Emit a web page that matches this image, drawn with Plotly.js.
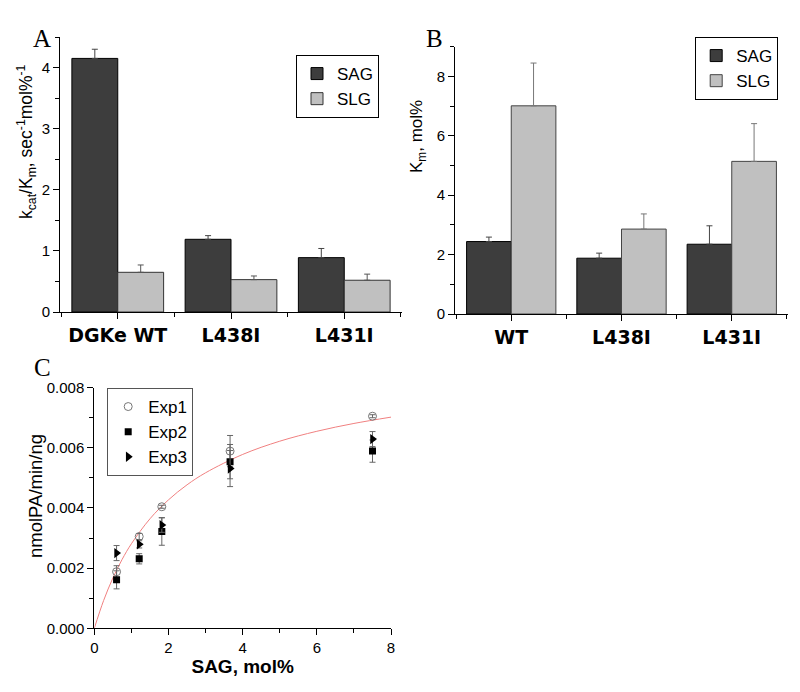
<!DOCTYPE html>
<html>
<head>
<meta charset="utf-8">
<script src="https://cdn.plot.ly/plotly-3.0.1.min.js"></script>
<style>html,body{margin:0;padding:0;background:#fff;}#chart{width:800px;height:692px;}</style>
</head>
<body>
<div id="chart"></div>
<script>
// ---- Panel A data ----
const catsA = ['DGKe WT', 'L438I', 'L431I'];
const sagA = [4.15, 1.19, 0.89];
const sagAErr = [0.15, 0.06, 0.15];
const slgA = [0.65, 0.53, 0.52];
const slgAErr = [0.12, 0.06, 0.10];

// ---- Panel B data ----
const catsB = ['WT', 'L438I', 'L431I'];
const sagB = [2.44, 1.88, 2.35];
const sagBErr = [0.15, 0.17, 0.62];
const slgB = [7.01, 2.86, 5.14];
const slgBErr = [1.44, 0.51, 1.27];

// ---- Panel C data ----
const sagConc = [0.6, 1.21, 1.82, 3.66, 7.5];
const exp1 = [0.00188, 0.00305, 0.00404, 0.00589, 0.00705];
const exp1Err = [0.0002, 0.0001, 0.00005, 0.00052, 0.00005];
const exp2 = [0.00161, 0.00231, 0.00322, 0.00554, 0.00589];
const exp2Err = [0.0003, 0.00017, 0.00046, 0.00057, 0.00037];
const exp3 = [0.00250, 0.00279, 0.00343, 0.00531, 0.00629];
const exp3Err = [0.00025, 0.00012, 0.00024, 0.0006, 0.00025];
// fitted curve points
const fitX = [0, 0.25, 0.5, 0.75, 1, 1.5, 2, 2.5, 3, 4, 5, 6, 7, 8];
const fitY = [0, 0.00092, 0.00167, 0.00229, 0.00281, 0.00364, 0.00427, 0.00477, 0.00517, 0.00578, 0.00622, 0.00655, 0.00681, 0.00702];

const idxA = catsA.map((_, i) => i);
const idxB = catsB.map((_, i) => i);
const zeros = n => new Array(n).fill(0);

const SAGC = '#3d3d3d', SLGC = '#c0c0c0';
const errStyle = (arr, col) => ({type: 'data', array: arr, arrayminus: zeros(arr.length), symmetric: false, color: col, thickness: 1, width: 3});
const errSym = arr => ({type: 'data', array: arr, color: '#666', thickness: 1, width: 3});

const traces = [
  {type: 'bar', name: 'SAG', x: idxA, y: sagA, xaxis: 'x', yaxis: 'y', legend: 'legend',
   marker: {color: SAGC, line: {color: '#000', width: 1}}, error_y: errStyle(sagAErr, '#444')},
  {type: 'bar', name: 'SLG', x: idxA, y: slgA, xaxis: 'x', yaxis: 'y', legend: 'legend',
   marker: {color: SLGC, line: {color: '#333', width: 1}}, error_y: errStyle(slgAErr, '#555')},
  {type: 'bar', name: 'SAG', x: idxB, y: sagB, xaxis: 'x2', yaxis: 'y2', legend: 'legend2',
   marker: {color: SAGC, line: {color: '#000', width: 1}}, error_y: errStyle(sagBErr, '#444')},
  {type: 'bar', name: 'SLG', x: idxB, y: slgB, xaxis: 'x2', yaxis: 'y2', legend: 'legend2',
   marker: {color: SLGC, line: {color: '#444', width: 1}}, error_y: errStyle(slgBErr, '#777')},
  {type: 'scatter', mode: 'lines', x: fitX, y: fitY, xaxis: 'x3', yaxis: 'y3', showlegend: false,
   line: {color: '#f08080', width: 1, shape: 'spline'}, hoverinfo: 'skip'},
  {type: 'scatter', mode: 'markers', name: 'Exp1', x: sagConc, y: exp1, xaxis: 'x3', yaxis: 'y3', legend: 'legend3',
   marker: {symbol: 'circle-open', size: 8, color: '#777', line: {width: 1}}, error_y: errSym(exp1Err)},
  {type: 'scatter', mode: 'markers', name: 'Exp2', x: sagConc, y: exp2, xaxis: 'x3', yaxis: 'y3', legend: 'legend3',
   marker: {symbol: 'square', size: 7, color: '#000'}, error_y: errSym(exp2Err)},
  {type: 'scatter', mode: 'markers', name: 'Exp3', x: sagConc, y: exp3, xaxis: 'x3', yaxis: 'y3', legend: 'legend3',
   marker: {symbol: 'triangle-right', size: 9, color: '#000'}, error_y: errSym(exp3Err)}
];

const SANS = 'Liberation Sans, Arial, sans-serif';
const tickFont = {family: SANS, size: 15, color: '#000'};
const catFont = {family: 'DejaVu Sans, sans-serif', size: 19, color: '#000', weight: 'bold'};
const baseAxis = {showline: true, linecolor: '#000', linewidth: 1, showgrid: false, zeroline: false,
  ticks: 'outside', ticklen: 6, tickcolor: '#000', tickfont: tickFont, fixedrange: true};
const serif = {family: 'Liberation Serif, Times New Roman, serif', size: 25, color: '#000'};
const rotTitle = (text, x, y, size) => ({text: text, x: x / 800, y: 1 - y / 692, xref: 'paper', yref: 'paper',
  showarrow: false, textangle: -90, xanchor: 'center', yanchor: 'middle', font: {family: SANS, size: size, color: '#000'}});

const legendBase = {xanchor: 'left', yanchor: 'top', bgcolor: '#fff', bordercolor: '#000', borderwidth: 1,
  traceorder: 'normal', itemwidth: 30, tracegroupgap: 0};

const layout = {
  width: 800, height: 692,
  margin: {l: 0, r: 0, t: 0, b: 0},
  paper_bgcolor: '#fff', plot_bgcolor: '#fff',
  barmode: 'group', bargap: 0.19, bargroupgap: 0,
  font: {family: SANS, color: '#000'},
  xaxis: Object.assign({}, baseAxis, {domain: [0.075, 0.5025], anchor: 'y', range: [-0.51, 2.51],
    tickmode: 'array', tickvals: idxA, ticktext: catsA, tickfont: catFont,
    minor: {tickmode: 'linear', tick0: 0.5, dtick: 1, ticks: 'outside', ticklen: 4, tickcolor: '#000'}}),
  yaxis: Object.assign({}, baseAxis, {domain: [0.5491, 0.9465], anchor: 'x', range: [0, 4.5],
    tickmode: 'linear', tick0: 0, dtick: 1,
    minor: {dtick: 0.5, ticks: 'outside', ticklen: 4, tickcolor: '#000'}}),
  xaxis2: Object.assign({}, baseAxis, {domain: [0.56875, 0.985], anchor: 'y2', range: [-0.51, 2.51],
    tickmode: 'array', tickvals: idxB, ticktext: catsB, tickfont: catFont,
    minor: {tickmode: 'linear', tick0: 0.5, dtick: 1, ticks: 'outside', ticklen: 4, tickcolor: '#000'}}),
  yaxis2: Object.assign({}, baseAxis, {domain: [0.5462, 0.9325], anchor: 'x2', range: [0, 9],
    tickmode: 'linear', tick0: 0, dtick: 2,
    minor: {dtick: 1, ticks: 'outside', ticklen: 4, tickcolor: '#000'}}),
  xaxis3: Object.assign({}, baseAxis, {domain: [0.1179, 0.4888], anchor: 'y3', range: [0, 8],
    tickmode: 'linear', tick0: 0, dtick: 2,
    minor: {dtick: 1, ticks: 'outside', ticklen: 4, tickcolor: '#000'},
    title: {text: '<b>SAG, mol%</b>', font: {size: 19}, standoff: 4}}),
  yaxis3: Object.assign({}, baseAxis, {domain: [0.0921, 0.4398], anchor: 'x3', range: [0, 0.008],
    tickmode: 'linear', tick0: 0, dtick: 0.002, tickformat: '.3f',
    minor: {dtick: 0.001, ticks: 'outside', ticklen: 4, tickcolor: '#000'}}),
  legend: Object.assign({}, legendBase, {x: 0.37, y: 0.9205, font: {size: 17}}),
  legend2: Object.assign({}, legendBase, {x: 0.869, y: 0.9465, font: {size: 17}}),
  legend3: Object.assign({}, legendBase, {x: 0.134, y: 0.4393, font: {size: 17}, bordercolor: '#555'}),
  annotations: [
    Object.assign({text: 'A', x: 31 / 800, y: 1 - 23 / 692, xref: 'paper', yref: 'paper', showarrow: false}, {font: serif}),
    Object.assign({text: 'B', x: 434 / 800, y: 1 - 23 / 692, xref: 'paper', yref: 'paper', showarrow: false}, {font: serif}),
    Object.assign({text: 'C', x: 32 / 800, y: 1 - 368 / 692, xref: 'paper', yref: 'paper', showarrow: false}, {font: serif}),
    rotTitle('k<sub>cat</sub>/K<sub>m</sub>, sec<sup>-1</sup>mol%<sup>-1</sup>', 26, 142, 17.5),
    rotTitle('K<sub>m</sub>, mol%', 418, 137, 17),
    rotTitle('nmolPA/min/ng', 35, 496, 18.5)
  ]
};

Plotly.newPlot('chart', traces, layout, {displayModeBar: false, staticPlot: true});
</script>
</body>
</html>
